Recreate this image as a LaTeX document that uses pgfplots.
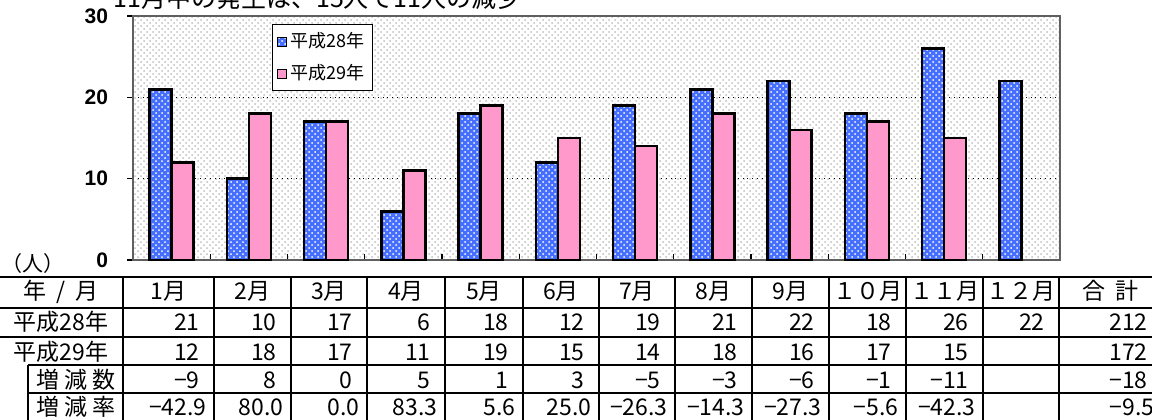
\documentclass[border=0pt]{standalone}
\usepackage{pgfplots}
\pgfplotsset{compat=1.18}
\usepackage{fontspec}
\setmainfont{Noto Sans CJK JP}
\newfontfamily\numfont{Liberation Sans}
\usetikzlibrary{patterns}
\definecolor{barblue}{RGB}{70,110,255}
\definecolor{barpink}{RGB}{255,153,204}
\begin{document}
\begin{tikzpicture}[x=0.5pt,y=-0.5pt]
\useasboundingbox (0,0) rectangle (1152,419);
% title (cut off at top, as in the reference)
\node[anchor=base west,inner sep=0,font=\fontsize{12.5}{14}\selectfont] at (113,7) {11月中の発生は、15人で11人の減少};
\begin{axis}[
  at={(66.5pt,-130pt)}, anchor=south west,
  scale only axis, width=463.5pt, height=122pt,
  xmin=0.5, xmax=12.5, ymin=0, ymax=30,
  ybar=0pt, bar width=11pt,
  xtick={1.5,2.5,...,11.5}, xticklabels={},
  xtick pos=bottom, ytick pos=left,
  ytick={0,10,20,30},
  tick align=inside, major tick length=3pt,
  tick style={black, line width=0.6pt},
  ytick style={xshift=-3pt},
  /pgf/number format/assume math mode=true,
  yticklabel style={font=\numfont\bfseries\fontsize{10.5}{12}\selectfont, xshift=-9pt},
  ymajorgrids, major grid style={black, dotted, line width=0.5pt},
  axis line style={draw=gray!75!black, line width=0.9pt},
  axis background/.style={fill=white, postaction={pattern=crosshatch dots, pattern color=gray!50}},
  legend style={at={(0.150,0.967)}, anchor=north west, draw=black, line width=0.5pt,
    font=\fontsize{9}{10}\selectfont, inner xsep=2pt, inner ysep=2pt, row sep=3pt},
  legend cell align=left,
  legend image code/.code={\draw[#1, line width=0.6pt] (0pt,-2.25pt) rectangle (4.5pt,2.25pt);},
]
\addplot[fill=barblue, draw=black, line width=1.3pt,
  postaction={pattern=crosshatch dots, pattern color=white}] coordinates
  {(1,21)(2,10)(3,17)(4,6)(5,18)(6,12)(7,19)(8,21)(9,22)(10,18)(11,26)(12,22)};
\addplot[fill=barpink, draw=black, line width=1.3pt] coordinates
  {(1,12)(2,18)(3,17)(4,11)(5,19)(6,15)(7,14)(8,18)(9,16)(10,17)(11,15)};
\legend{平成28年,平成29年}
\end{axis}
% unit label
\node[anchor=west, font=\fontsize{10.5}{12}\selectfont, inner sep=0] at (1,264) {（人）};
% table lines
\begin{scope}[line width=1.4pt]
\draw (0,277) -- (1170,277);
\draw (0,308) -- (1170,308);
\draw (0,337) -- (1170,337);
\draw (28,365) -- (1170,365);
\draw (28,365) -- (28,430);
\foreach \b in {123,214,291,367,445,523,599,675,752,829,906,983,1059,1162}
  \draw (\b,277) -- (\b,430);
\end{scope}
\draw[line width=0.6pt] (28,393) -- (1170,393);
% table text
\begin{scope}[every node/.style={inner sep=0, font=\fontsize{11.5}{13}\selectfont}]
\node[anchor=base] at (61,299) {年\hspace{0.45em}/\hspace{0.45em}月};
\node[anchor=base] at (61,330) {平成28年};
\node[anchor=base] at (61,360) {平成29年};
\node[anchor=base] at (76,388) {増 減 数};
\node[anchor=base] at (76,415) {増 減 率};
\foreach \l/\r/\h/\a/\b/\c/\d in {
  123/214/1月/21/12/−9/−42.9,
  214/291/2月/10/18/8/80.0,
  291/367/3月/17/17/0/0.0,
  367/445/4月/6/11/5/83.3,
  445/523/5月/18/19/1/5.6,
  523/599/6月/12/15/3/25.0,
  599/675/7月/19/14/−5/−26.3,
  675/752/8月/21/18/−3/−14.3,
  752/829/9月/22/16/−6/−27.3,
  829/906/１０月/18/17/−1/−5.6,
  906/983/１１月/26/15/−11/−42.3,
  983/1059/１２月/22/{}/{}/{},
  1059/1162/合\ \ 計/212/172/−18/−9.5}
{
  \node[anchor=base] at ({(\l+\r)/2},299) {\h};
  \node[anchor=base east] at (\r-14,330) {\a};
  \node[anchor=base east] at (\r-14,360) {\b};
  \node[anchor=base east] at (\r-14,388) {\c};
  \node[anchor=base east] at (\r-7,415) {\d};
}
\end{scope}
\end{tikzpicture}
\end{document}
